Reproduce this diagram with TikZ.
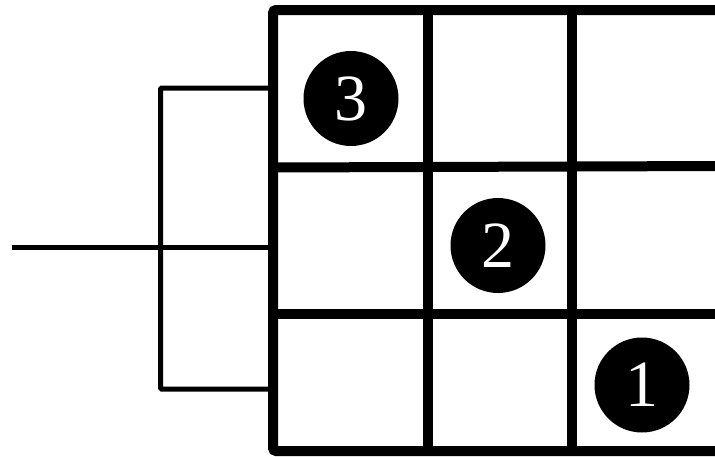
\documentclass[tikz,border=0pt]{standalone}
\usepackage{fontspec}
\setmainfont{Liberation Serif}
\begin{document}
\begin{tikzpicture}[x=1pt,y=-1pt,
  gridline/.style={line width=10pt},
  thinline/.style={line width=5pt},
  badge/.style={circle,fill=black,text=white,minimum size=95pt,inner sep=0pt,font=\fontsize{66}{66}\selectfont}]
\useasboundingbox (0,0) rectangle (715,456);
% grid
\draw[gridline,rounded corners=3pt] (720,10) -- (273,10) -- (273,451) -- (720,451);
\draw[gridline] (427.7,10) -- (427.7,451);
\draw[gridline] (571.7,10) -- (571.7,451);
\draw[gridline] (273,167.5) -- (720,166);
\draw[gridline] (273,314) -- (720,314);
% bracket
\coordinate (in) at (11.7,247.5);
\coordinate (g1) at (270,88);
\coordinate (g2) at (270,247.5);
\coordinate (g3) at (270,389);
\draw[thinline] (in) -- (g2);
\draw[thinline,rounded corners=1pt] (g1) -- (160.7,88) -- (160.7,389) -- (g3);
% badges
\node[badge] (n3) at (351,98.5) {3};
\node[badge] (n2) at (498,245.5) {2};
\node[badge] (n1) at (642,385) {1};
\end{tikzpicture}
\end{document}
